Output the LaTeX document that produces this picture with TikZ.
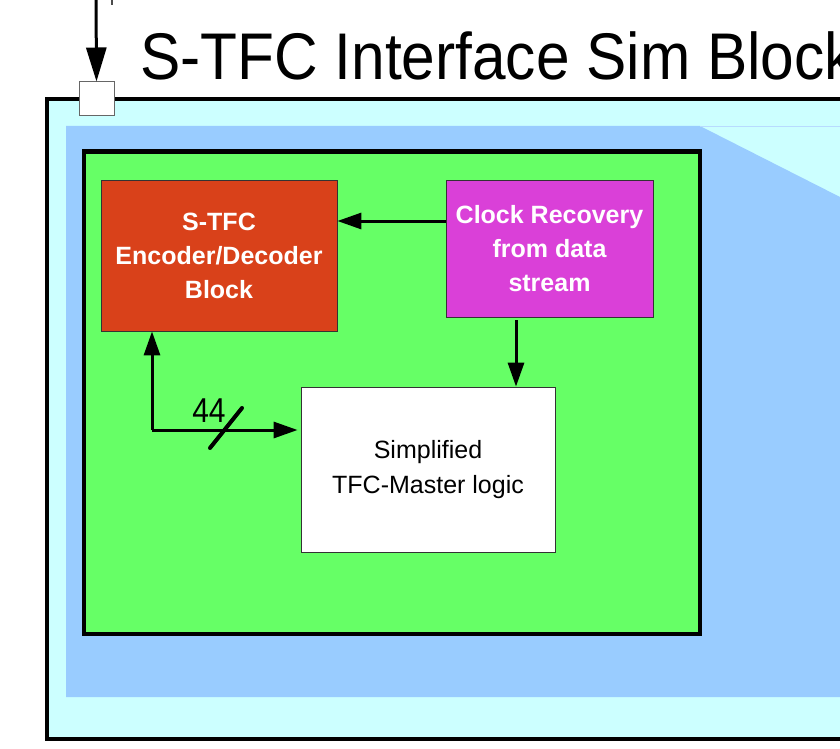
\documentclass[tikz,border=0pt]{standalone}
\usepackage{fontspec}
\setmainfont{Liberation Sans}
\usetikzlibrary{arrows.meta}
\definecolor{shellcyan}{HTML}{CCFFFF}
\definecolor{simblue}{HTML}{99CCFF}
\definecolor{boardgreen}{HTML}{66FF66}
\definecolor{codecred}{HTML}{D9411A}
\definecolor{clockmag}{HTML}{DA40D8}
\tikzset{
  conn/.style={line width=3pt, -{Triangle[length=24pt,width=16pt]}},
  blockbox/.style={draw=black!80, line width=0.8pt, rectangle, inner sep=0pt, align=center},
  boldtext/.style={text=white, font=\fontsize{25}{34}\selectfont\bfseries},
  plaintext/.style={text=black, font=\fontsize{25}{35}\selectfont},
}
\begin{document}
\begin{tikzpicture}[x=1pt,y=-1pt]
\useasboundingbox (0,0) rectangle (840,749);
\clip (0,0) rectangle (840,749);

% outer sim block
\draw[line width=4pt, fill=shellcyan] (47,99) rectangle (900,739);
% inner blue area with slanted corner
\fill[simblue] (66,126) -- (700,126) -- (900,227.4) -- (900,697) -- (66,697) -- cycle;
\draw[simblue!70!white, line width=0.8pt] (700,126) -- (900,126);
% green board
\draw[line width=4.5pt, fill=boardgreen] (84,151.5) rectangle (700,634);

% title (slightly condensed)
\node[anchor=base west, inner sep=0pt, xscale=0.915, font=\fontsize{66}{66}\selectfont] (title) at (140,80) {S-TFC Interface Sim Block};

% input port and its incoming signal
\node[draw=black!60, fill=white, line width=1pt, minimum width=35pt, minimum height=34pt, inner sep=0pt] (port) at (96.5,99) {};
\coordinate (feed) at (96,-5);
\draw[line width=3pt, -{Triangle[length=34pt,width=20pt]}] (feed) -- (port.north);
\coordinate (tickA) at (112,-2);
\coordinate (tickB) at (112,5);
\draw[black!70, line width=1.6pt] (tickA) -- (tickB);

% functional blocks
\node[blockbox, fill=codecred, boldtext, minimum width=236pt, minimum height=151pt] (codec) at (219,255.5)
  {S-TFC\\Encoder/Decoder\\Block};
\node[blockbox, fill=clockmag, boldtext, minimum width=207pt, minimum height=137pt] (clock) at (549.5,248.5)
  {Clock Recovery\\from data\\stream};
\node[blockbox, fill=white, plaintext, minimum width=254pt, minimum height=165pt] (master) at (428,469.5)
  {Simplified\\TFC-Master logic};

% connectors
\draw[conn] (clock.west |- 0,221) -- (codec.east |- 0,221);
\draw[conn, shorten <=3pt] (clock.south -| 516,0) -- (master.north -| 516,0);
\coordinate (bus) at (152,430);
\draw[conn] (bus) -- (codec.south -| bus);
\draw[conn, shorten >=3pt] (bus) -- (master.west |- bus);

% bus width marker
\coordinate (slashA) at (210,448);
\coordinate (slashB) at (242,408);
\draw[line width=4pt, line cap=round] (slashA) -- (slashB);
\node[font=\fontsize{30}{30}\selectfont, inner sep=0pt, yscale=1.15] (width) at (209,411) {44};
\end{tikzpicture}
\end{document}
